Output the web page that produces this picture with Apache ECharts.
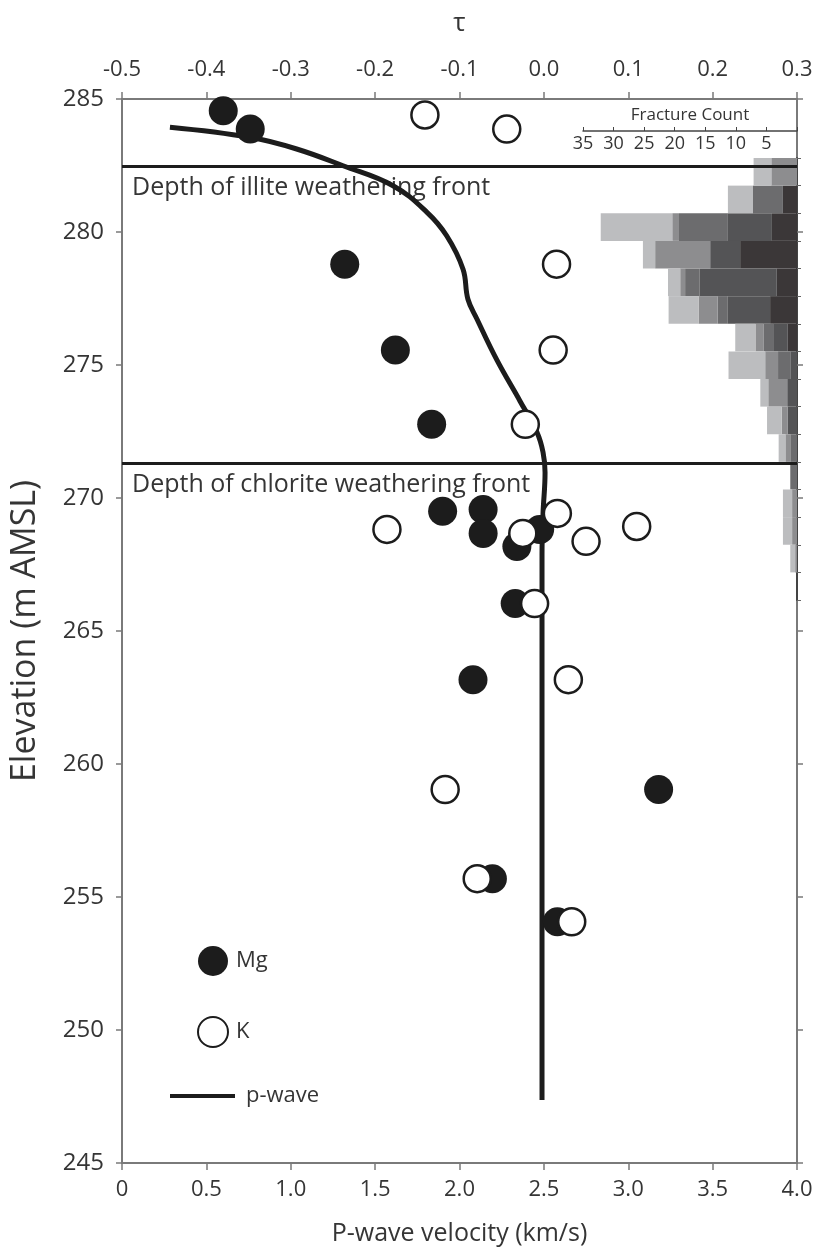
<!DOCTYPE html>
<html>
<head>
<meta charset="utf-8">
<script src="https://cdn.jsdelivr.net/npm/echarts@6/dist/echarts.min.js"></script>
<style>
  html, body { margin: 0; padding: 0; background: #fff; }
  #main { width: 821px; height: 1252px; }
</style>
</head>
<body>
<div id="main"></div>
<script>
// Mg and K tau values (top axis) against elevation
const mgTau = [-0.380, -0.348, -0.236, -0.176, -0.133, -0.120, -0.072, -0.072, -0.032, -0.005, -0.034, -0.084, 0.136, -0.061, 0.016];
const mgElev = [284.56, 283.87, 278.79, 275.56, 272.77, 269.50, 269.57, 268.67, 268.18, 268.82, 266.03, 263.17, 259.04, 255.69, 254.07];
const kTau = [-0.141, -0.044, 0.015, 0.011, -0.022, -0.186, -0.025, 0.016, 0.050, 0.110, -0.011, 0.029, -0.117, -0.079, 0.033];
const kElev = [284.40, 283.87, 278.79, 275.56, 272.77, 268.82, 268.67, 269.42, 268.37, 268.93, 266.03, 263.17, 259.04, 255.69, 254.07];

// p-wave velocity profile (bottom axis)
const pwVel = [0.284, 0.759, 1.035, 1.310, 1.606, 1.806, 1.924, 2.021, 2.050, 2.104, 2.222, 2.359, 2.459, 2.495, 2.507, 2.495, 2.489, 2.489];
const pwElev = [283.94, 283.56, 283.12, 282.49, 281.74, 280.75, 279.86, 278.60, 277.47, 276.72, 275.18, 273.64, 272.47, 271.72, 270.96, 269.42, 267.88, 247.37];

// weathering fronts
const frontElev = [282.48, 271.30];
const frontNames = ['Depth of illite weathering front', 'Depth of chlorite weathering front'];

// fracture count histogram, bins from top to bottom (bin centre elevation)
const binMid = ['282.31', '281.27', '280.23', '279.19', '278.15', '277.11', '276.07', '275.03', '273.99', '272.95', '271.91', '270.87', '269.83', '268.79', '267.75', '266.71'];
const frac1 = [0, 2.3, 4.1, 9.3, 3.3, 4.4, 1.5, 0, 0, 0, 0, 0, 0, 0, 0, 0];
const frac2 = [0, 0, 7.2, 4.9, 12.6, 7.0, 2.4, 1.1, 1.6, 1.5, 0, 0, 0, 0, 0, 0];
const frac3 = [0, 4.9, 8.0, 0, 2.4, 1.6, 1.6, 2.0, 0, 0, 1.1, 1.1, 0, 0, 0, 0];
const frac4 = [4.2, 0, 1.1, 9.0, 0.8, 3.1, 1.3, 2.1, 3.1, 1.0, 0.8, 0, 0.8, 0.8, 0.3, 0];
const frac5 = [2.9, 4.1, 11.7, 2.0, 2.0, 4.9, 3.3, 6.0, 1.3, 2.4, 1.1, 0, 1.5, 1.5, 0.8, 0];
const fracColors = ['#3b3738', '#545456', '#6c6c6e', '#8d8d8f', '#bcbdbf'];

const font = 'Open Sans';
const txt = '#353535';
const axisGray = '#7a7a7a';

const chart = echarts.init(document.getElementById('main'));

function zip(a, b) {
  return a.map(function (v, i) { return [v, b[i]]; });
}

const fracSeries = [frac1, frac2, frac3, frac4, frac5].map(function (d, i) {
  return {
    type: 'bar',
    xAxisIndex: 2,
    yAxisIndex: 2,
    stack: 'frac',
    data: d,
    barWidth: '100%',
    barCategoryGap: '0%',
    itemStyle: { color: fracColors[i] },
    silent: true,
    z: 1
  };
});

var option = {
  animation: false,
  backgroundColor: '#fff',
  textStyle: { fontFamily: font },
  grid: [
    { left: 122, right: 24, top: 99, bottom: 89 },
    { left: 583, right: 24, top: 158, bottom: 652 },
    { left: 583, right: 24, top: 131, height: 20 }
  ],
  legend: [
    {
      data: ['Mg', 'K'],
      orient: 'vertical',
      left: 197,
      top: 946,
      padding: 0,
      itemWidth: 30,
      itemHeight: 30,
      itemGap: 40,
      textStyle: { fontFamily: font, fontSize: 22, color: txt, padding: [0, 0, 0, 3] }
    },
    {
      data: [{ name: 'p-wave', icon: 'rect' }],
      left: 170,
      top: 1085,
      padding: 0,
      itemWidth: 65,
      itemHeight: 4,
      textStyle: { fontFamily: font, fontSize: 22, color: txt, padding: [0, 0, 0, 6] }
    }
  ],
  xAxis: [
    {
      gridIndex: 0,
      type: 'value',
      position: 'bottom',
      min: 0, max: 4, interval: 0.5,
      name: 'P-wave velocity (km/s)',
      nameLocation: 'middle',
      nameGap: 58,
      nameTextStyle: { fontFamily: font, fontSize: 25, color: txt },
      axisLine: { onZero: false, lineStyle: { color: axisGray, width: 2 } },
      axisTick: { length: 7, lineStyle: { color: axisGray, width: 1.5 } },
      axisLabel: {
        fontFamily: font, fontSize: 22, color: txt, margin: 16,
        formatter: function (v) { return v === 0 ? '0' : v.toFixed(1); }
      },
      splitLine: { show: false }
    },
    {
      gridIndex: 0,
      type: 'value',
      position: 'top',
      min: -0.5, max: 0.3, interval: 0.1,
      name: 'τ',
      nameLocation: 'middle',
      nameGap: 62,
      nameTextStyle: { fontFamily: font, fontSize: 26, color: txt },
      axisLine: { onZero: false, lineStyle: { color: axisGray, width: 2 } },
      axisTick: { length: 7, lineStyle: { color: axisGray, width: 1.5 } },
      axisLabel: {
        fontFamily: font, fontSize: 22, color: txt, margin: 18,
        formatter: function (v) { return v.toFixed(1); }
      },
      splitLine: { show: false }
    },
    {
      gridIndex: 1,
      type: 'value',
      min: 0, max: 35,
      inverse: true,
      show: false
    },
    {
      gridIndex: 2,
      type: 'value',
      position: 'top',
      min: 0, max: 35, interval: 5,
      inverse: true,
      name: 'Fracture Count',
      nameLocation: 'middle',
      nameGap: 7,
      nameTextStyle: { fontFamily: font, fontSize: 17, color: txt },
      axisLine: { onZero: false, lineStyle: { color: '#444', width: 1.5 } },
      axisTick: { length: 4, lineStyle: { color: '#444', width: 1 } },
      axisLabel: {
        inside: true, margin: 4,
        fontFamily: font, fontSize: 18, color: txt,
        formatter: function (v) { return v === 0 ? '' : String(v); }
      },
      splitLine: { show: false }
    }
  ],
  yAxis: [
    {
      gridIndex: 0,
      type: 'value',
      min: 245, max: 285, interval: 5,
      name: 'Elevation (m AMSL)',
      nameLocation: 'middle',
      nameGap: 80,
      nameTextStyle: { fontFamily: font, fontSize: 34, color: txt },
      axisLine: { onZero: false, lineStyle: { color: axisGray, width: 2 } },
      axisTick: { length: 6, lineStyle: { color: axisGray, width: 1.5 } },
      axisLabel: { fontFamily: font, fontSize: 24, color: txt, margin: 18 },
      splitLine: { show: false }
    },
    {
      gridIndex: 0,
      type: 'value',
      position: 'right',
      min: 245, max: 285, interval: 5,
      axisLine: { show: true, onZero: false, lineStyle: { color: axisGray, width: 2 } },
      axisTick: { show: true, length: 6, lineStyle: { color: axisGray, width: 1.5 } },
      axisLabel: { show: false },
      splitLine: { show: false }
    },
    {
      gridIndex: 1,
      type: 'category',
      data: binMid,
      inverse: true,
      position: 'right',
      axisLine: { show: true, onZero: false, lineStyle: { color: '#444', width: 2 } },
      axisTick: { show: true, length: 4, lineStyle: { color: '#666', width: 1 } },
      axisLabel: { show: false },
      splitLine: { show: false }
    },
    {
      gridIndex: 2,
      type: 'value',
      show: false
    }
  ],
  series: fracSeries.concat([
    {
      name: 'p-wave',
      type: 'line',
      xAxisIndex: 0,
      yAxisIndex: 0,
      data: zip(pwVel, pwElev),
      smooth: 0.4,
      symbol: 'none',
      lineStyle: { color: '#1c1c1c', width: 5 },
      itemStyle: { color: '#1c1c1c' },
      z: 5,
      markLine: {
        silent: true,
        symbol: 'none',
        lineStyle: { color: '#1c1c1c', width: 3, type: 'solid' },
        label: {
          show: true,
          position: 'insideStartBottom',
          distance: [10, 9],
          fontFamily: font,
          fontSize: 25,
          color: txt,
          formatter: function (p) { return frontNames[p.dataIndex]; }
        },
        data: frontElev.map(function (e) { return { yAxis: e }; })
      }
    },
    {
      name: 'Mg',
      type: 'scatter',
      xAxisIndex: 1,
      yAxisIndex: 0,
      data: zip(mgTau, mgElev),
      symbol: 'circle',
      symbolSize: 29,
      itemStyle: { color: '#1c1c1c', opacity: 1 },
      z: 6
    },
    {
      name: 'K',
      type: 'scatter',
      xAxisIndex: 1,
      yAxisIndex: 0,
      data: zip(kTau, kElev),
      symbol: 'circle',
      symbolSize: 27,
      itemStyle: { color: '#fff', borderColor: '#1c1c1c', borderWidth: 2.5, opacity: 1 },
      z: 7
    }
  ])
};

chart.setOption(option);
</script>
</body>
</html>
